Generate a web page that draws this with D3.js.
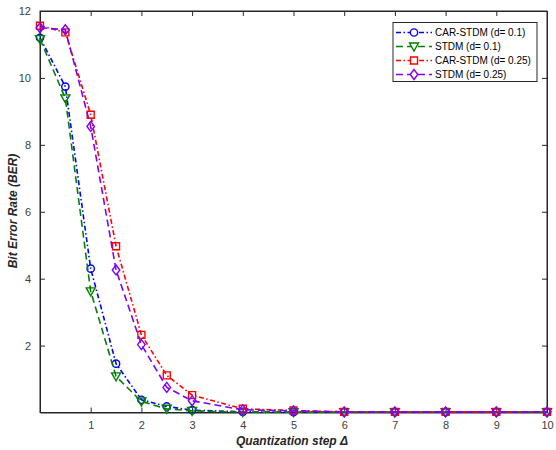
<!DOCTYPE html>
<html>
<head>
<meta charset="utf-8">
<script src="https://cdn.jsdelivr.net/npm/d3@7"></script>
<style>
body{margin:0;background:#fff;}
text{font-family:"Liberation Sans",Arial,sans-serif;}
</style>
</head>
<body>
<div id="chart"></div>
<script>
"use strict";

// x = quantization step, one value per point
let steps = [0,0.5,1,1.5,2,2.5,3,4,5,6,7,8,9,10];

// BER values per series
let carStdm01 = [11.2,9.74,4.3,1.46,0.38,0.18,0.07,0.02,0.01,0.01,0.01,0.01,0.01,0.01];
let stdm01    = [11.16,9.39,3.62,1.08,0.33,0.11,0.05,0.01,0.01,0.01,0.01,0.01,0.01,0.01];
let carStdm025= [11.56,11.36,8.9,4.97,2.32,1.11,0.52,0.11,0.06,0.02,0.02,0.02,0.02,0.02];
let stdm025   = [11.5,11.44,8.55,4.26,2.03,0.75,0.35,0.08,0.05,0.02,0.02,0.02,0.02,0.02];

let seriesNames = ["CAR-STDM (d= 0.1)","STDM (d= 0.1)","CAR-STDM (d= 0.25)","STDM (d= 0.25)"];
let seriesValues = [carStdm01,stdm01,carStdm025,stdm025];

let xTicks = [1,2,3,4,5,6,7,8,9,10];
let yTicks = [2,4,6,8,10,12];

// styles for each series
let colors = ["#0000ff","#008000","#ff0000","#8000ff"];
let dashes = ["5,2.5,1.5,2.5","7,4","5,2.5,1.5,2.5","7,4"];
let symbols = ["circle","triangle","square","diamond"];

let svg = d3.select("#chart")
.append("svg")
.attr("width",556)
.attr("height",450);

// scales
let xScale = d3.scaleLinear()
.domain([0,10])
.range([40,547]);

let yScale = d3.scaleLinear()
.domain([0,12])
.range([412.5,11]);

let axisColor = "#262626";

// box
svg.append("rect")
.attr("x",40)
.attr("y",11)
.attr("width",507)
.attr("height",401.5)
.attr("fill","none")
.attr("stroke",axisColor)
.attr("stroke-width",1);

// axes with inward ticks
svg.append("g")
.attr("transform","translate(0,412.5)")
.call(d3.axisBottom(xScale).tickValues(xTicks).tickSizeInner(-5).tickSizeOuter(0).tickPadding(9));

svg.append("g")
.attr("transform","translate(0,11)")
.call(d3.axisTop(xScale).tickValues(xTicks).tickSizeInner(-5).tickSizeOuter(0).tickFormat(""));

svg.append("g")
.attr("transform","translate(40,0)")
.call(d3.axisLeft(yScale).tickValues(yTicks).tickSizeInner(-5).tickSizeOuter(0).tickPadding(9));

svg.append("g")
.attr("transform","translate(547,0)")
.call(d3.axisRight(yScale).tickValues(yTicks).tickSizeInner(-5).tickSizeOuter(0).tickFormat(""));

svg.selectAll(".domain").attr("stroke",axisColor);
svg.selectAll(".tick line").attr("stroke",axisColor);
svg.selectAll(".tick text")
.attr("fill","#404040")
.style("font-size","11px")
.style("font-family","'Liberation Sans',Arial,sans-serif");

// axis labels
svg.append("text")
.attr("x",292)
.attr("y",445)
.attr("text-anchor","middle")
.style("font-size","12px")
.style("font-weight","bold")
.style("font-style","italic")
.attr("fill",axisColor)
.text("Quantization step \u0394");

svg.append("text")
.attr("transform","rotate(-90)")
.attr("x",-211)
.attr("y",17)
.attr("text-anchor","middle")
.style("font-size","12px")
.style("font-weight","bold")
.style("font-style","italic")
.attr("fill",axisColor)
.text("Bit Error Rate (BER)");

// marker path generator
function markerPath(kind){
 if(kind=="circle") return d3.symbol().type(d3.symbolCircle).size(42)();
 if(kind=="square") return "M-3.5,-3.5L3.5,-3.5L3.5,3.5L-3.5,3.5Z";
 if(kind=="diamond") return "M0,-5L3.8,0L0,5L-3.8,0Z";
 return "M-4.5,-3.5L4.5,-3.5L0,4.5Z";
}

let line = d3.line()
.x(function(d){ return xScale(d[0]); })
.y(function(d){ return yScale(d[1]); });

for(let i=0;i<seriesValues.length;i=i+1){
 let pts = steps.map(function(s,j){ return [s,seriesValues[i][j]]; });

 svg.append("path")
 .datum(pts)
 .attr("d",line)
 .attr("fill","none")
 .attr("stroke",colors[i])
 .attr("stroke-width",1.6)
 .attr("stroke-dasharray",dashes[i]);

 svg.selectAll(".m"+i)
 .data(pts)
 .join("path")
 .attr("class","m"+i)
 .attr("transform",function(d){
   return "translate("+xScale(d[0])+","+yScale(d[1])+")";
 })
 .attr("d",markerPath(symbols[i]))
 .attr("fill","none")
 .attr("stroke",colors[i])
 .attr("stroke-width",1.4);
}

// legend
svg.append("rect")
.attr("x",393)
.attr("y",22.5)
.attr("width",144)
.attr("height",59)
.attr("fill","#fff")
.attr("stroke",axisColor)
.attr("stroke-width",1);

for(let i=0;i<seriesNames.length;i=i+1){
 let ly = 32.5+i*14;

 svg.append("line")
 .attr("x1",396)
 .attr("x2",432)
 .attr("y1",ly)
 .attr("y2",ly)
 .attr("stroke",colors[i])
 .attr("stroke-width",1.6)
 .attr("stroke-dasharray",dashes[i]);

 svg.append("path")
 .attr("transform","translate(414,"+ly+")")
 .attr("d",markerPath(symbols[i]))
 .attr("fill","#fff")
 .attr("stroke",colors[i])
 .attr("stroke-width",1.4);

 svg.append("text")
 .attr("x",435)
 .attr("y",ly+3.5)
 .style("font-size","10px")
 .attr("fill","#000")
 .text(seriesNames[i]);
}
</script>
</body>
</html>
